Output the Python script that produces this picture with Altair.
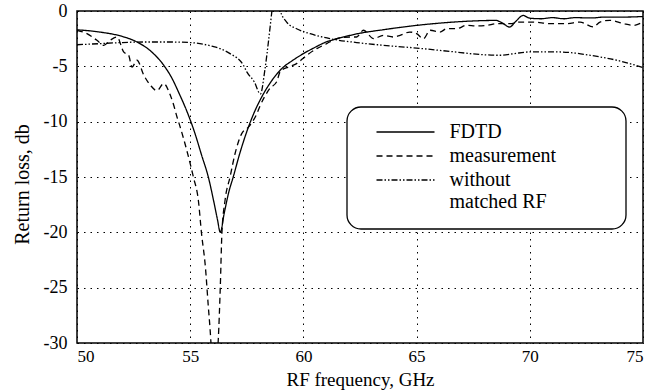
import altair as alt
import pandas as pd

# FDTD (solid)
fdtd_f = [50.0, 51.0, 52.0, 52.65, 53.3, 53.83, 54.2, 54.5, 54.9, 55.2, 55.5, 55.8, 56.05, 56.2, 56.33,
          56.5, 56.7, 56.9, 57.2, 57.5, 57.8, 58.1, 58.5, 59.1, 59.5, 60.0, 60.5, 61.0, 61.5, 62.4,
          63.5, 65.0, 66.0, 67.5, 68.5, 68.8, 69.1, 69.4, 69.7, 70.0, 70.5, 71.0, 71.5, 72.0, 72.7,
          73.3, 74.1, 75.0]
fdtd_db = [-1.7, -1.9, -2.3, -2.8, -3.7, -4.9, -6.1, -7.4, -9.3, -11.0, -13.0, -15.0, -17.3, -18.8, -20.0,
           -18.3, -16.4, -15.0, -12.8, -10.9, -9.3, -8.0, -6.6, -5.1, -4.5, -3.85, -3.3, -2.8, -2.5, -2.05,
           -1.7, -1.3, -1.1, -0.9, -0.85, -1.1, -1.45, -0.9, -0.4, -0.65, -0.7, -0.6, -0.7, -0.6, -0.63,
           -0.55, -0.55, -0.5]

# measurement (dashed)
meas_f = [50.0, 50.44, 50.88, 51.18, 51.46, 51.77, 52.06, 52.28, 52.43, 52.65, 52.95, 53.24, 53.53, 53.83,
          54.12, 54.27, 54.42, 54.56, 54.85, 55.14, 55.36, 55.5, 55.67, 55.8, 55.88, 55.95, 56.05, 56.2,
          56.24, 56.33, 56.4, 56.54, 56.76, 56.98, 57.27, 57.57, 57.94, 58.08, 58.52, 58.82, 58.97, 59.33,
          59.7, 60.15, 60.59, 61.03, 61.47, 62.06, 62.35, 62.65, 63.1, 63.53, 63.97, 64.27, 64.7, 65.0,
          65.3, 65.6, 66.03, 66.33, 66.77, 67.2, 67.65, 68.1, 68.54, 69.13, 69.57, 70.15, 70.9, 71.63,
          72.22, 72.8, 73.1, 73.54, 74.13, 74.57, 75.0]
meas_db = [-1.74, -2.05, -2.65, -3.1, -2.65, -2.35, -3.7, -4.0, -5.06, -4.45, -5.8, -6.7, -7.2, -6.56,
           -7.6, -8.5, -9.6, -10.5, -12.6, -15.0, -17.1, -20.1, -23.1, -26.7, -28.8, -31.0, -33.0, -31.0,
           -29.7, -24.9, -20.1, -17.1, -15.0, -12.9, -11.1, -10.5, -9.3, -8.6, -7.0, -6.4, -5.5, -5.06,
           -4.75, -4.0, -3.4, -2.95, -2.5, -2.35, -2.35, -1.74, -2.5, -2.2, -2.35, -2.2, -1.9, -2.05,
           -2.5, -1.74, -1.9, -1.6, -1.6, -1.3, -1.35, -1.3, -1.14, -1.14, -1.0, -1.0, -1.14, -1.14,
           -1.0, -1.44, -1.0, -0.84, -1.14, -1.3, -1.0]

# without matched RF (dash-dot)
wo_f = [50.0, 51.0, 52.0, 53.0, 54.0, 55.0, 55.43, 56.0, 56.32, 56.76, 57.35, 57.5, 57.83, 58.1, 58.3,
        58.46, 58.56, 58.62, 58.8, 58.97, 59.26, 59.7, 60.3, 61.17, 62.35, 63.53, 65.0, 66.47, 67.95,
        68.7, 69.3, 70.0, 71.2, 72.0, 72.66, 73.84, 75.0]
wo_db = [-3.05, -2.95, -2.85, -2.8, -2.8, -2.85, -2.95, -3.2, -3.4, -3.85, -4.9, -5.5, -6.4, -7.5, -5.3,
         -2.7, -0.9, 0.2, 2.0, 0.1, -1.0, -1.6, -2.05, -2.5, -2.85, -3.1, -3.35, -3.65, -3.95,
         -4.0, -3.85, -3.7, -3.7, -3.8, -4.0, -4.45, -5.1]

series = ["FDTD", "measurement", "without matched RF"]

df = pd.concat([
    pd.DataFrame({"f": fdtd_f, "db": fdtd_db, "s": series[0]}),
    pd.DataFrame({"f": meas_f, "db": meas_db, "s": series[1]}),
    pd.DataFrame({"f": wo_f, "db": wo_db, "s": series[2]}),
])

FONT = "Liberation Serif"

box = alt.Chart(pd.DataFrame({"a": [0]})).mark_rect(
    fill="white", stroke="black", strokeWidth=1.3, cornerRadius=14
).encode(
    x=alt.value(270), x2=alt.value(549), y=alt.value(96), y2=alt.value(218)
)

lines = alt.Chart(df).mark_line(clip=True, strokeWidth=1.3, interpolate="monotone").encode(
    x=alt.X("f:Q", scale=alt.Scale(domain=[50, 75], nice=False),
            axis=alt.Axis(values=[50, 55, 60, 65, 70, 75], title="RF frequency, GHz",
                          titleY=42, titleBaseline="alphabetic", titleFontSize=19,
                          labelPadding=5, labelFontSize=17)),
    y=alt.Y("db:Q", scale=alt.Scale(domain=[-30, 0], nice=False),
            axis=alt.Axis(values=[0, -5, -10, -15, -20, -25, -30], title="Return loss, db",
                          titleX=-55, titleY=173, titleBaseline="middle", labelPadding=10,
                          labelExpr="datum.value")),
    strokeDash=alt.StrokeDash("s:N", scale=alt.Scale(domain=series,
                              range=[[1, 0], [6, 4], [6, 2, 1.5, 2, 1.5, 2]]),
                              legend=alt.Legend(title=None, orient="none", legendX=318.5, legendY=111,
                                                symbolType="M-5,0H5", symbolSize=134.56,
                                                symbolStrokeWidth=1.3, symbolStrokeColor="black",
                                                symbolFillColor="transparent",
                                                labelFont=FONT, labelFontSize=20, labelColor="black",
                                                labelOffset=34, rowPadding=4, padding=0,
                                                labelExpr="datum.label == 'without matched RF' ? ['without', 'matched RF'] : datum.label")),
    detail="s:N",
    color=alt.value("black"),
    order=alt.Order("f:Q"),
)

chart = alt.layer(box, lines).properties(
    width=566, height=332,
    autosize=alt.AutoSizeParams(type="none"),
    padding={"left": 77, "top": 11, "right": 17, "bottom": 49},
    background="white",
).configure_view(stroke="black", strokeWidth=1.5).configure_axis(
    grid=True, gridColor="black", gridDash=[1.5, 5], gridWidth=1, gridOpacity=1,
    domain=False, ticks=False,
    labelFont=FONT, labelFontSize=18, labelColor="black",
    titleFont=FONT, titleFontSize=20, titleColor="black", titleFontWeight="normal",
)

chart.save("out.html", embed_options={"renderer": "svg", "actions": False})
